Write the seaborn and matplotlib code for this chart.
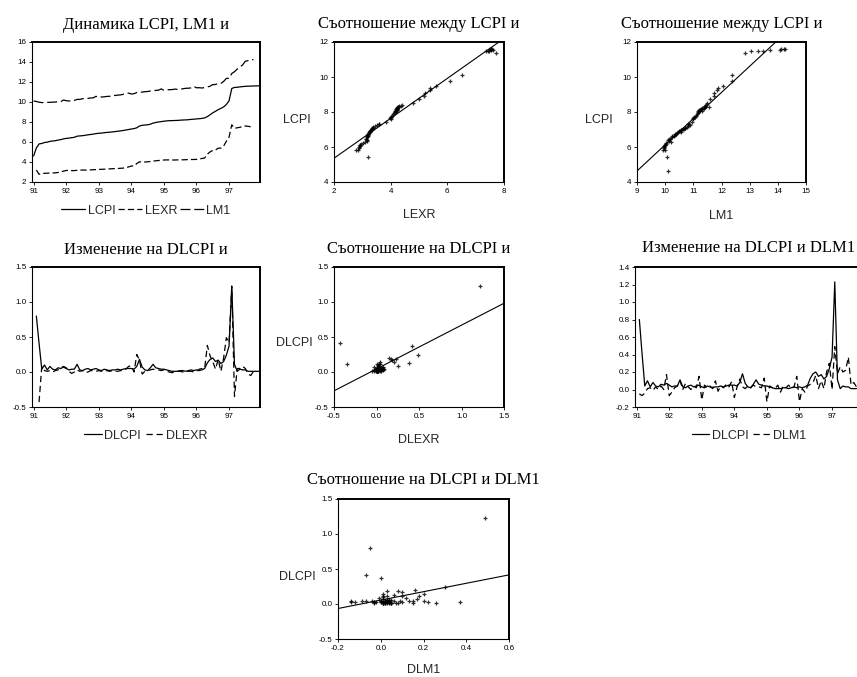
import numpy as np
import pandas as pd
import matplotlib
matplotlib.use("Agg")
import matplotlib.pyplot as plt
from matplotlib.ticker import FormatStrFormatter
import seaborn as sns

# ---------------------------------------------------------------
# Monthly series, observation 0 = January 1991
# ---------------------------------------------------------------
LCPI = [4.60, 5.40, 5.81, 5.85, 5.95, 5.98, 6.06, 6.10, 6.13, 6.19, 6.24, 6.31, 6.36,
        6.39, 6.43, 6.47, 6.58, 6.61, 6.63, 6.67, 6.72, 6.75, 6.79, 6.84, 6.87,
        6.89, 6.93, 6.96, 6.98, 7.01, 7.04, 7.08, 7.11, 7.15, 7.20, 7.25, 7.30,
        7.34, 7.42, 7.60, 7.67, 7.70, 7.72, 7.78, 7.89, 7.95, 8.00, 8.04, 8.08,
        8.11, 8.13, 8.14, 8.15, 8.16, 8.18, 8.20, 8.21, 8.23, 8.26, 8.28, 8.31,
        8.33, 8.36, 8.41, 8.54, 8.72, 8.92, 9.07, 9.24, 9.36, 9.51, 9.75, 10.12,
        11.35, 11.46, 11.47, 11.51, 11.54, 11.57, 11.58, 11.59, 11.60, 11.61, 11.62]

# exchange rate starts in February 1991
LEXR_START = 1
LEXR = [3.20, 2.77, 2.85, 2.87, 2.88, 2.90, 2.90, 2.92, 2.95, 3.01, 3.09, 3.15,
        3.16, 3.14, 3.14, 3.17, 3.18, 3.20, 3.19, 3.19, 3.21, 3.23, 3.24, 3.26,
        3.27, 3.28, 3.30, 3.31, 3.33, 3.34, 3.35, 3.37, 3.39, 3.43, 3.51, 3.60,
        3.60, 3.85, 4.02, 3.99, 4.00, 4.02, 4.05, 4.09, 4.12, 4.15, 4.17, 4.20,
        4.21, 4.21, 4.20, 4.20, 4.21, 4.22, 4.22, 4.23, 4.24, 4.25, 4.25, 4.26,
        4.30, 4.35, 4.40, 4.78, 5.01, 5.16, 5.20, 5.38, 5.39, 5.59, 6.08, 6.50,
        7.72, 7.37, 7.42, 7.47, 7.55, 7.60, 7.57, 7.52, 7.53]

LM1_START = 0
LM1 = [10.10, 10.05, 9.98, 9.94, 9.95, 9.97, 9.96, 9.99, 9.99, 10.03, 10.03, 10.20, 10.13,
       10.10, 10.12, 10.16, 10.26, 10.26, 10.33, 10.36, 10.36, 10.40, 10.42, 10.57, 10.45,
       10.50, 10.52, 10.56, 10.57, 10.67, 10.65, 10.69, 10.71, 10.77, 10.80, 10.89, 10.80,
       10.83, 10.95, 10.98, 10.99, 11.03, 11.05, 11.10, 11.13, 11.16, 11.18, 11.31, 11.17,
       11.21, 11.23, 11.24, 11.29, 11.26, 11.30, 11.32, 11.37, 11.38, 11.41, 11.56, 11.42,
       11.43, 11.40, 11.44, 11.50, 11.58, 11.74, 11.75, 11.85, 11.86, 12.06, 12.36, 12.36,
       12.85, 13.03, 13.29, 13.49, 13.71, 14.08, 14.13, 14.21, 14.24]

YEAR_TICKS = [91, 92, 93, 94, 95, 96, 97]

TITLE_LEVELS = "Динамика LCPI, LM1 и"
TITLE_LCPI_LEXR = "Съотношение между LCPI и"
TITLE_LCPI_LM1 = "Съотношение между LCPI и"
TITLE_D_EXR = "Изменение на DLCPI и"
TITLE_SCAT_D_EXR = "Съотношение на DLCPI и"
TITLE_D_M1 = "Изменение на DLCPI и DLM1"
TITLE_SCAT_D_M1 = "Съотношение на DLCPI и DLM1"

# ---------------------------------------------------------------
# Assemble a monthly frame and first differences
# ---------------------------------------------------------------
df = pd.DataFrame({"LCPI": LCPI}, index=pd.RangeIndex(len(LCPI)))
df["LEXR"] = pd.Series(LEXR, index=range(LEXR_START, LEXR_START + len(LEXR)))
df["LM1"] = pd.Series(LM1, index=range(LM1_START, LM1_START + len(LM1)))
df["year"] = 91 + df.index / 12
for col in ["LCPI", "LEXR", "LM1"]:
    df["D" + col] = df[col].diff()

# ---------------------------------------------------------------
# Figure setup
# ---------------------------------------------------------------
sns.set_style("ticks")
plt.rcParams["font.family"] = ["Liberation Sans", "DejaVu Sans"]
plt.rcParams["axes.unicode_minus"] = False

W, H = 857, 677
fig = plt.figure(figsize=(W / 100, H / 100), dpi=100)
fig.patch.set_facecolor("white")

SERIF = ["Liberation Serif", "DejaVu Serif"]


def add_axes(left, top, right, bottom):
    return fig.add_axes([left / W, 1 - bottom / H, (right - left) / W, (bottom - top) / H])


def style(ax, title, pad):
    for s in ["left", "bottom"]:
        ax.spines[s].set_linewidth(0.8)
    for s in ["top", "right"]:
        ax.spines[s].set_linewidth(1.4)
    for s in ax.spines.values():
        s.set_color("black")
        s.set_visible(True)
    ax.tick_params(axis="both", direction="out", length=2.5, width=0.6,
                   labelsize=5.8, pad=1.5, colors="black")
    ax.set_title(title, fontfamily=SERIF, fontsize=12, pad=pad, color="black")
    ax.set_facecolor("white")


def ts_line(ax, col, ls, label):
    d = df.dropna(subset=[col])
    sns.lineplot(data=d, x="year", y=col, ax=ax, color="black", lw=0.9,
                 linestyle=ls, label=label)


def ts_finish(ax, ylim, yticks, fmt, handlelength, colspace):
    ax.set_xlim(90.95, 97.95)
    ax.set_ylim(*ylim)
    ax.set_xticks(YEAR_TICKS)
    ax.set_xticklabels([str(y) for y in YEAR_TICKS])
    ax.set_yticks(yticks)
    ax.yaxis.set_major_formatter(FormatStrFormatter(fmt))
    ax.set_xlabel("")
    ax.set_ylabel("")
    leg = ax.legend(loc="center", bbox_to_anchor=(0.5, -0.205), ncol=3, frameon=False,
                    fontsize=9, handlelength=handlelength, handletextpad=0.2,
                    columnspacing=colspace, borderpad=0)
    for h in leg.get_lines():
        h.set_linewidth(0.9)


def scatter(ax, xcol, ycol, xlim, ylim, xticks, yticks, xfmt, yfmt,
            ylab_xy, xlab_y):
    ax.set_xlim(*xlim)
    ax.set_ylim(*ylim)
    sns.regplot(data=df, x=xcol, y=ycol, ax=ax, ci=None, truncate=False,
                marker="+", color="black",
                scatter_kws={"s": 9, "linewidths": 0.9},
                line_kws={"lw": 0.8})
    ax.set_xlim(*xlim)
    ax.set_ylim(*ylim)
    ax.set_xticks(xticks)
    ax.set_yticks(yticks)
    ax.xaxis.set_major_formatter(FormatStrFormatter(xfmt))
    ax.yaxis.set_major_formatter(FormatStrFormatter(yfmt))
    ax.set_ylabel(ycol, rotation=0, fontsize=9, ha="center", va="center")
    ax.yaxis.set_label_coords(*ylab_xy)
    ax.set_xlabel(xcol, fontsize=9, va="center")
    ax.xaxis.set_label_coords(0.5, xlab_y)


# --- levels over time ---
ax1 = add_axes(32, 42, 260, 182)
style(ax1, TITLE_LEVELS, 9)
ts_line(ax1, "LCPI", "-", "LCPI")
ts_line(ax1, "LEXR", (0, (5, 2.5)), "LEXR")
ts_line(ax1, "LM1", (0, (8, 3)), "LM1")
ts_finish(ax1, (2, 16), [2, 4, 6, 8, 10, 12, 14, 16], "%d", 1.9, 0.25)

# --- LCPI vs LEXR ---
ax2 = add_axes(334, 42, 504, 182)
style(ax2, TITLE_LCPI_LEXR, 10)
scatter(ax2, "LEXR", "LCPI", (2, 8), (4, 12), [2, 4, 6, 8], [4, 6, 8, 10, 12],
        "%d", "%d", (-0.218, 0.443), -0.236)

# --- LCPI vs LM1 ---
ax3 = add_axes(637, 42, 806, 182)
style(ax3, TITLE_LCPI_LM1, 10)
scatter(ax3, "LM1", "LCPI", (9, 15), (4, 12), [9, 10, 11, 12, 13, 14, 15],
        [4, 6, 8, 10, 12], "%d", "%d", (-0.225, 0.443), -0.245)

# --- DLCPI and DLEXR over time ---
ax4 = add_axes(32, 267, 260, 407)
style(ax4, TITLE_D_EXR, 9)
ts_line(ax4, "DLCPI", "-", "DLCPI")
ts_line(ax4, "DLEXR", (0, (5, 3)), "DLEXR")
ts_finish(ax4, (-0.5, 1.5), [-0.5, 0.0, 0.5, 1.0, 1.5], "%.1f", 1.4, 0.4)

# --- DLCPI vs DLEXR ---
ax5 = add_axes(334, 267, 504, 407)
style(ax5, TITLE_SCAT_D_EXR, 10)
scatter(ax5, "DLEXR", "DLCPI", (-0.5, 1.5), (-0.5, 1.5), [-0.5, 0.0, 0.5, 1.0, 1.5],
        [-0.5, 0.0, 0.5, 1.0, 1.5], "%.1f", "%.1f", (-0.232, 0.455), -0.236)

# --- DLCPI and DLM1 over time (panel runs past the right edge) ---
ax6 = add_axes(635, 267, 863, 407)
style(ax6, TITLE_D_M1, 11)
d6 = df.loc[df["LM1"].notna()]
sns.lineplot(data=d6, x="year", y="DLCPI", ax=ax6, color="black", lw=0.9,
             linestyle="-", label="DLCPI")
sns.lineplot(data=d6.dropna(subset=["DLM1"]), x="year", y="DLM1", ax=ax6,
             color="black", lw=0.9, linestyle=(0, (5, 3)), label="DLM1")
ts_finish(ax6, (-0.2, 1.4), [-0.2, 0.0, 0.2, 0.4, 0.6, 0.8, 1.0, 1.2, 1.4], "%.1f", 1.4, 0.4)

# --- DLCPI vs DLM1 ---
ax7 = add_axes(338, 499, 509, 639)
style(ax7, TITLE_SCAT_D_M1, 11)
scatter(ax7, "DLM1", "DLCPI", (-0.2, 0.6), (-0.5, 1.5), [-0.2, 0.0, 0.2, 0.4, 0.6],
        [-0.5, 0.0, 0.5, 1.0, 1.5], "%.1f", "%.1f", (-0.24, 0.443), -0.221)

fig.savefig("out.png", dpi=100, facecolor="white")
